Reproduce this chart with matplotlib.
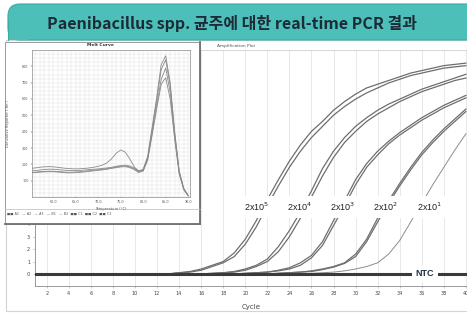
import matplotlib.pyplot as plt
from matplotlib.patches import FancyBboxPatch, Rectangle

W, H = 467, 313

# amplification plot (Delta Rn per cycle)
cycles = list(range(1, 41))
amp_5a = [0] * 13 + [0.1, 0.2, 0.4, 0.7, 1.0, 1.7, 2.8, 4.3, 6.0, 7.6, 9.1, 10.4, 11.5, 12.3,
                     13.2, 13.9, 14.5, 15.0, 15.3, 15.6, 15.9, 16.2, 16.4, 16.6, 16.8, 16.9, 17.0]
amp_5b = [0] * 13 + [0.1, 0.15, 0.3, 0.6, 0.9, 1.4, 2.4, 3.8, 5.5, 7.1, 8.6, 9.9, 11.0, 11.9,
                     12.8, 13.5, 14.1, 14.6, 15.0, 15.4, 15.7, 16.0, 16.2, 16.4, 16.6, 16.7, 16.8]
amp_4a = [0] * 16 + [0.05, 0.1, 0.2, 0.4, 0.7, 1.2, 2.2, 3.5, 5.0, 6.7, 8.5, 9.9, 11.0, 11.9,
                     12.6, 13.2, 13.7, 14.1, 14.5, 14.9, 15.2, 15.5, 15.8, 16.1]
amp_4b = [0] * 16 + [0.05, 0.1, 0.15, 0.3, 0.6, 1.0, 1.8, 3.0, 4.5, 6.2, 7.9, 9.4, 10.6, 11.5,
                     12.3, 12.9, 13.4, 13.9, 14.3, 14.7, 15.0, 15.3, 15.6, 15.8]
amp_3a = [0] * 19 + [0.05, 0.1, 0.15, 0.3, 0.5, 0.9, 1.5, 2.6, 4.3, 5.9, 7.6, 8.9, 9.9, 10.7,
                     11.4, 12.0, 12.6, 13.1, 13.6, 14.0, 14.4]
amp_3b = [0] * 19 + [0.05, 0.1, 0.15, 0.25, 0.4, 0.7, 1.3, 2.3, 3.9, 5.5, 7.2, 8.6, 9.6, 10.5,
                     11.2, 11.8, 12.4, 12.9, 13.4, 13.8, 14.2]
amp_2a = [0] * 22 + [0.05, 0.1, 0.15, 0.25, 0.4, 0.6, 0.9, 1.6, 2.8, 4.5, 5.9, 7.3, 8.6, 9.8,
                     10.8, 11.7, 12.5, 13.3]
amp_2b = [0] * 22 + [0.05, 0.1, 0.15, 0.2, 0.35, 0.55, 0.85, 1.4, 2.6, 4.2, 5.7, 7.1, 8.4, 9.6,
                     10.6, 11.5, 12.3, 13.1]
amp_1 = [0] * 25 + [0.05, 0.1, 0.15, 0.25, 0.4, 0.6, 0.9, 1.6, 2.7, 4.2, 5.7, 7.2, 8.6, 10.0, 11.3]
ntc = [0.0] * len(cycles)

dil_labels = ["2x10$^5$", "2x10$^4$", "2x10$^3$", "2x10$^2$", "2x10$^1$"]
dil_label_x = [21.0, 24.9, 28.8, 32.7, 36.7]

# melt curve (inset)
melt_temp = list(range(55, 91))
melt_1 = [160, 162, 165, 168, 170, 170, 168, 165, 163, 162, 162, 163, 165, 168, 170, 172, 175, 178,
          182, 188, 192, 195, 190, 178, 160, 170, 250, 430, 610, 810, 865, 700, 400, 160, 55, 10]
melt_2 = [150, 152, 155, 157, 158, 158, 156, 154, 152, 152, 153, 155, 158, 161, 164, 167, 170, 174,
          178, 184, 188, 190, 185, 172, 155, 165, 240, 410, 590, 780, 840, 680, 390, 155, 50, 8]
melt_3 = [175, 178, 182, 185, 186, 185, 182, 178, 175, 173, 172, 173, 175, 178, 182, 188, 196, 210,
          235, 268, 288, 275, 235, 185, 158, 165, 235, 395, 560, 720, 790, 640, 370, 150, 48, 8]
melt_4 = [148, 150, 152, 154, 155, 155, 153, 150, 148, 148, 149, 151, 154, 157, 160, 163, 166, 170,
          175, 180, 184, 186, 180, 168, 150, 158, 225, 380, 540, 690, 730, 600, 350, 140, 45, 7]
temp_ticks = [60, 65, 70, 75, 80, 85, 90]
deriv_ticks = [100, 200, 300, 400, 500, 600, 700, 800]


def box(x0, y0, x1, y1):
    return [x0 / W, 1 - y1 / H, (x1 - x0) / W, (y1 - y0) / H]


def pixel_axes(z):
    a = fig.add_axes([0, 0, 1, 1], zorder=z)
    a.set_xlim(0, W)
    a.set_ylim(H, 0)
    a.set_facecolor('none')
    a.axis('off')
    return a


fig = plt.figure(figsize=(W / 100, H / 100), dpi=100)

bg = pixel_axes(0)
bg.add_patch(Rectangle((6, 40), 480, 271, fc='white', ec='#d4d4d4', lw=0.8))

# main amplification plot
ax = fig.add_axes(box(35, 50, 467, 286), zorder=1)
ax.set_facecolor('none')
for ys in [amp_5a, amp_5b, amp_4a, amp_4b, amp_3a, amp_3b, amp_2a, amp_2b]:
    ax.plot(cycles, ys, color='#6e6e6e', lw=0.9, zorder=3)
ax.plot(cycles, amp_1, color='#8c8c8c', lw=0.7, zorder=3)
ax.plot(cycles, ntc, color='#3a3a3a', lw=2.2, zorder=4)

for x, lab in zip(dil_label_x, dil_labels):
    ax.text(x, 5.4, lab, ha='center', va='center', fontsize=6.5, family='Liberation Sans',
            color='#222222', zorder=6, bbox=dict(fc='white', ec='none', pad=3.5))
ax.text(36.3, 0, 'NTC', ha='center', va='center', fontsize=6.5, fontweight='bold',
        family='Liberation Sans', color='#1f2d3d', zorder=6,
        bbox=dict(fc='white', ec='none', pad=2.5))

ax.set_xlim(0.94, 40.1)
ax.set_ylim(-0.97, 18.06)
ax.set_xticks(range(2, 41, 2))
# only 0-4 are visible, the rest sit behind the melt curve inset
ax.set_yticks(range(0, 19))
ax.set_yticklabels([str(v) if v < 5 else '' for v in range(0, 19)])
ax.set_yticks(range(0, 19, 2), minor=True)
ax.tick_params(axis='both', which='major', labelsize=3.5, labelcolor='#444444', length=1.5,
               width=0.4, color='#999999', pad=2)
ax.tick_params(axis='y', which='minor', length=0)
ax.grid(True, axis='x', which='major', color='#e4e4e4', lw=0.6)
ax.grid(True, axis='y', which='minor', color='#e4e4e4', lw=0.6)
ax.set_xlabel('Cycle', fontsize=5, color='#444444', labelpad=6)
for s in ['left', 'bottom']:
    ax.spines[s].set_color('#9a9a9a')
    ax.spines[s].set_linewidth(0.7)
ax.spines['top'].set_color('#d0d0d0')
ax.spines['top'].set_linewidth(0.6)
ax.spines['right'].set_visible(False)

# inset frame
ov = pixel_axes(2)
ov.add_patch(Rectangle((5, 42), 195, 182, fc='white', ec='#9a9a9a', lw=0.7))
ov.plot([200, 200], [42, 224], color='#707070', lw=1.3)
ov.plot([5, 200], [224, 224], color='#707070', lw=1.3)
ov.plot([5, 200], [209, 209], color='#bbbbbb', lw=0.5)
ov.text(100, 45.5, 'Melt Curve', ha='center', va='center', fontsize=3.2, fontweight='bold',
        color='#333333')
ov.text(236, 45.5, 'Amplification Plot', ha='center', va='center', fontsize=3.2, color='#555555')
ov.text(7, 213.5, '■■ A1   — A2   — A3   — B1   — B2  ■■ C1  ■■ C2  ■■ C3',
        ha='left', va='center', fontsize=2.4, color='#555555', family=['DejaVu Sans'])

ax2 = fig.add_axes(box(32, 50, 190, 197), zorder=3)
for ys in [melt_1, melt_2, melt_3, melt_4]:
    ax2.plot(melt_temp, ys, color='#8a8a8a', lw=0.6)
ax2.set_xlim(55.3, 90.4)
ax2.set_ylim(0, 900)
ax2.set_xticks(temp_ticks)
ax2.set_xticklabels([f'{t:.1f}' for t in temp_ticks])
ax2.set_yticks(deriv_ticks)
ax2.set_yticklabels([str(v) for v in deriv_ticks])
ax2.set_xticks(range(56, 91), minor=True)
ax2.set_yticks(range(0, 900, 25), minor=True)
ax2.grid(True, which='both', color='#e2e2e2', lw=0.35)
ax2.tick_params(which='both', labelsize=2.4, labelcolor='#555555', length=1, width=0.3, pad=1.5)
ax2.tick_params(which='minor', length=0)
ax2.set_xlabel('Temperature (°C)', fontsize=2.6, color='#555555', labelpad=2)
ax2.set_ylabel("Derivative Reporter (-Rn')", fontsize=2.6, color='#555555', labelpad=9)
for s in ax2.spines.values():
    s.set_color('#8a8a8a')
    s.set_linewidth(0.5)

# title banner
top = pixel_axes(4)
top.add_patch(FancyBboxPatch((8, 4), 480, 36, boxstyle='round,pad=0,rounding_size=12',
                             fc='#4cbfb8', ec='#3fa9a3', lw=0.8))
top.add_patch(Rectangle((8.4, 22), 20, 17.6, fc='#4cbfb8', ec='none'))
top.plot([8, 8], [22, 40], color='#3fa9a3', lw=0.8)
top.text(232, 23, 'Paenibacillus spp. 균주에 대한 real-time PCR 결과', ha='center', va='center',
         fontsize=11.5, fontweight='bold', color='#1d2a38',
         family=['Noto Sans CJK KR', 'DejaVu Sans'])

fig.savefig('out.png', dpi=100)
